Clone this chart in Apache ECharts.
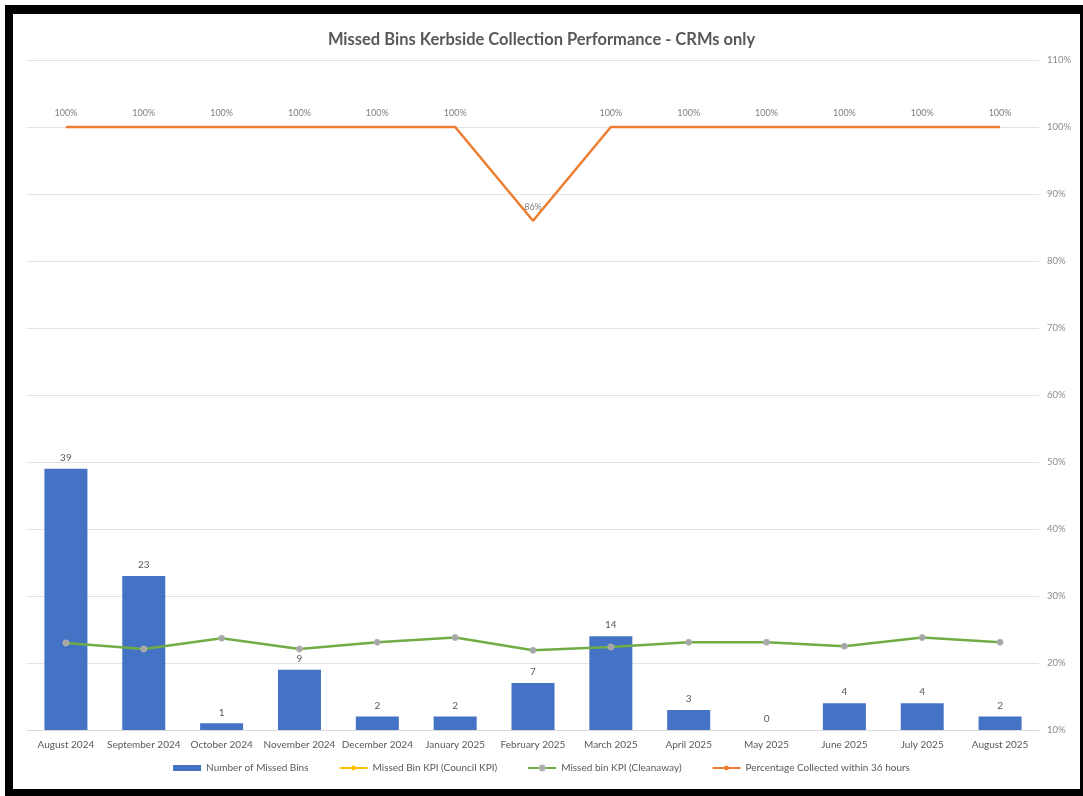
<!DOCTYPE html>
<html>
<head>
<meta charset="utf-8">
<script src="https://cdn.jsdelivr.net/npm/echarts@6/dist/echarts.min.js"></script>
<style>
  html, body { margin: 0; padding: 0; background: #fff; }
  #chart { position: absolute; left: 0; top: 0; width: 1083px; height: 796px; }
  #frame {
    position: absolute; left: 5px; top: 5px; right: 0; bottom: 0;
    border-left: 8px solid #000; border-top: 9px solid #000;
    border-right: 3px solid #000; border-bottom: 7px solid #000;
    pointer-events: none;
  }
</style>
</head>
<body>
<div id="chart"></div>
<div id="frame"></div>
<script>
// Monthly categories
const months = [
  'August 2024', 'September 2024', 'October 2024', 'November 2024', 'December 2024',
  'January 2025', 'February 2025', 'March 2025', 'April 2025', 'May 2025',
  'June 2025', 'July 2025', 'August 2025'
];
// Count of missed bins per month
const missedBins = [39, 23, 1, 9, 2, 2, 7, 14, 3, 0, 4, 4, 2];
// Council KPI (no values plotted)
const councilKpi = [];
// Cleanaway KPI, percent
const cleanawayKpi = [23.0, 22.1, 23.7, 22.1, 23.1, 23.8, 21.9, 22.4, 23.1, 23.1, 22.5, 23.8, 23.1];
// Percentage collected within 36 hours
const collected36h = [100, 100, 100, 100, 100, 100, 86, 100, 100, 100, 100, 100, 100];

const FONT = 'Lato, "Open Sans", sans-serif';
const TEXT = '#595959';

const chart = echarts.init(document.getElementById('chart'));
chart.setOption({
  animation: false,
  backgroundColor: '#ffffff',
  textStyle: { fontFamily: FONT },
  title: {
    text: 'Missed Bins Kerbside Collection Performance - CRMs only',
    left: 'center', top: 26,
    textStyle: { fontFamily: FONT, fontSize: 16.5, fontWeight: 'bold', color: TEXT }
  },
  legend: {
    bottom: 18, left: 'center',
    itemGap: 30, itemWidth: 28, itemHeight: 6,
    textStyle: { fontFamily: FONT, fontSize: 10, color: TEXT },
    data: [
      { name: 'Number of Missed Bins', icon: 'rect', itemStyle: { color: '#4472c4' } },
      { name: 'Missed Bin KPI (Council KPI)' },
      { name: 'Missed bin KPI (Cleanaway)' },
      { name: 'Percentage Collected within 36 hours' }
    ]
  },
  grid: { left: 27, right: 44, top: 60, bottom: 66 },
  xAxis: {
    type: 'category',
    data: months,
    axisTick: { show: false },
    axisLine: { lineStyle: { color: '#d9d9d9' } },
    axisLabel: { color: TEXT, fontSize: 10, fontFamily: FONT, interval: 0, margin: 10 }
  },
  yAxis: [
    { type: 'value', min: 0, max: 100, show: false, splitLine: { show: false } },
    {
      type: 'value', position: 'right', min: 10, max: 110, interval: 10,
      axisLine: { show: false }, axisTick: { show: false },
      axisLabel: { formatter: '{value}%', color: '#8c8c8c', fontSize: 9.5, fontFamily: FONT, margin: 8 },
      splitLine: { lineStyle: { color: '#e3e3e3', width: 1 } }
    }
  ],
  series: [
    {
      name: 'Number of Missed Bins', type: 'bar', yAxisIndex: 0,
      data: missedBins, barWidth: 43,
      itemStyle: { color: '#4472c4' },
      label: { show: true, position: 'top', distance: 6, color: TEXT, fontSize: 10, fontFamily: FONT }
    },
    {
      name: 'Missed Bin KPI (Council KPI)', type: 'line', yAxisIndex: 1,
      data: councilKpi,
      symbol: 'circle', symbolSize: 6,
      lineStyle: { color: '#ffc000', width: 2.5 },
      itemStyle: { color: '#ffc000' }
    },
    {
      name: 'Missed bin KPI (Cleanaway)', type: 'line', yAxisIndex: 1,
      data: cleanawayKpi,
      symbol: 'circle', symbolSize: 6, z: 4,
      lineStyle: { color: '#70ad47', width: 2.5 },
      itemStyle: { color: '#a5a5a5', borderColor: '#b5b5b5', borderWidth: 1 }
    },
    {
      name: 'Percentage Collected within 36 hours', type: 'line', yAxisIndex: 1,
      data: collected36h,
      symbol: 'circle', symbolSize: 0.1, showSymbol: true,
      lineStyle: { color: '#ed7d31', width: 2.5 },
      itemStyle: { color: '#ed7d31' },
      label: {
        show: true, position: 'top', distance: 9,
        formatter: '{c}%', color: '#7f7f7f', fontSize: 9, fontFamily: FONT
      }
    }
  ]
});
</script>
</body>
</html>
